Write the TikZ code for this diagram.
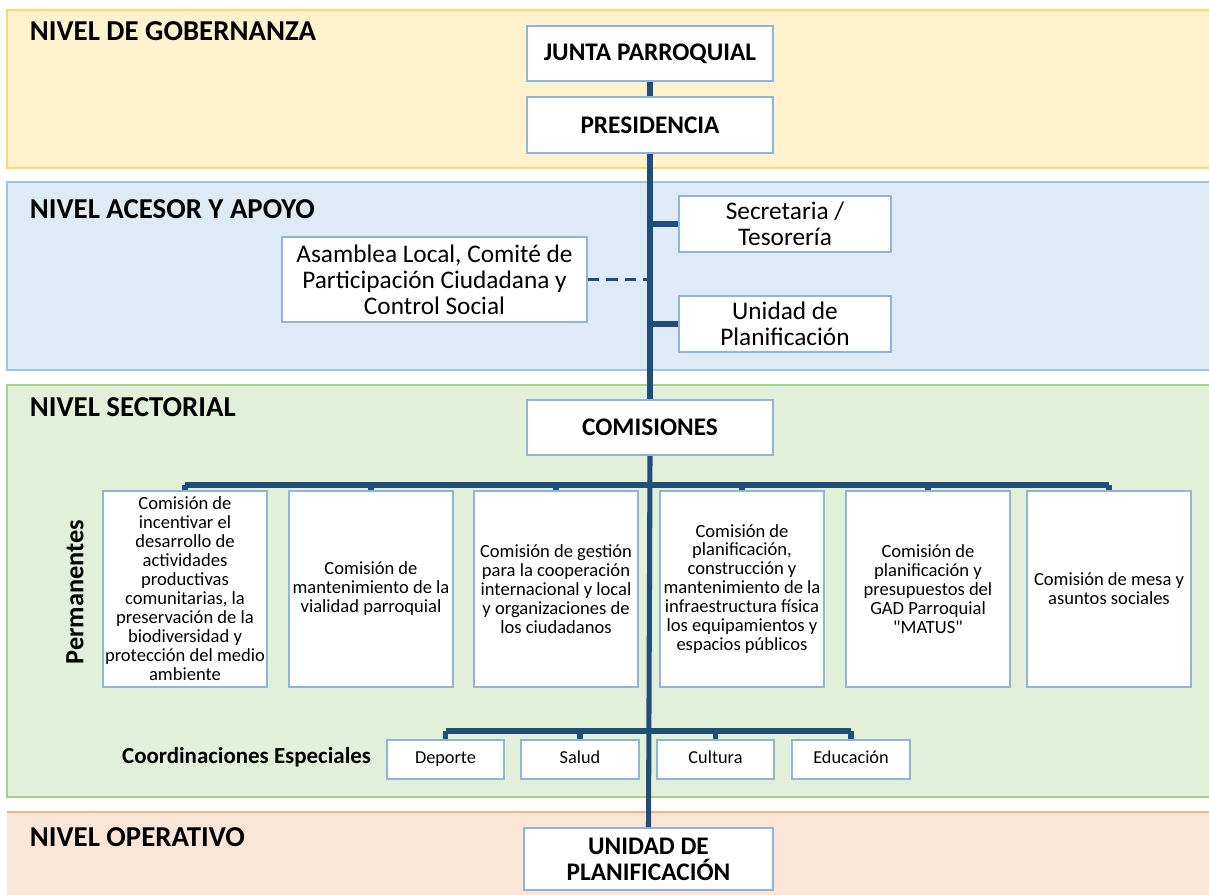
\documentclass[tikz,border=0pt]{standalone}
\usepackage{fontspec}
\setmainfont{Carlito}[Ligatures=TeXOff]
\usetikzlibrary{positioning}
\definecolor{govfill}{HTML}{FFF2CC}
\definecolor{govline}{HTML}{FFD966}
\definecolor{apofill}{HTML}{DEEBF7}
\definecolor{apoline}{HTML}{9DC3E6}
\definecolor{secfill}{HTML}{E2F0D9}
\definecolor{secline}{HTML}{A9D18E}
\definecolor{opefill}{HTML}{FBE5D6}
\definecolor{opeline}{HTML}{F4B183}
\definecolor{boxline}{HTML}{8FB4DE}
\definecolor{trunkblue}{HTML}{1F4E79}

\begin{document}
\begin{tikzpicture}[x=0.025cm,y=-0.025cm,
  band/.style={line width=2pt},
  level/.style={anchor=base west,font=\fontsize{20.5}{24}\selectfont\bfseries},
  box/.style={draw=boxline,line width=1.3pt,fill=white,align=center,inner sep=1pt},
  headbox/.style={box,minimum width=6.15cm,minimum height=1.38cm,font=\fontsize{18}{18.5}\selectfont\bfseries},
  supbox/.style={box,minimum width=5.3cm,minimum height=1.4cm,font=\fontsize{18}{18.5}\selectfont},
  combox/.style={box,minimum width=4.08cm,minimum height=4.9cm,font=\fontsize{13.2}{13.5}\selectfont},
  coobox/.style={box,minimum width=2.93cm,minimum height=0.98cm,text height=1.7ex,text depth=0.5ex,font=\fontsize{13}{15}\selectfont},
  conn/.style={draw=trunkblue,line width=3.6pt}]
  \clip (0,0) rectangle (1209,894);
  % level bands
  \draw[band,draw=govline,fill=govfill] (7,10) rectangle (1220,168);
  \draw[band,draw=apoline,fill=apofill] (7,182) rectangle (1220,370);
  \draw[band,draw=secline,fill=secfill] (7,385) rectangle (1220,797);
  \fill[opefill] (7,812) rectangle (1220,900);
  \draw[band,draw=opeline] (7,812) -- (1220,812);
  \node[level] at (25,40) {NIVEL DE GOBERNANZA};
  \node[level] at (25,218) {NIVEL ACESOR Y APOYO};
  \node[level] at (25,416) {NIVEL SECTORIAL};
  \node[level] at (25,846) {NIVEL OPERATIVO};

  % main chain
  \node[headbox] (junta) at (650,53.5) {JUNTA PARROQUIAL};
  \node[headbox] (pres) at (650,125) {PRESIDENCIA};
  \node[supbox] (secre) at (785,224) {Secretaria /\\Tesorería};
  \node[supbox] (uplan) at (785,324) {Unidad de\\Planificación};
  \node[supbox,minimum width=7.63cm,minimum height=2.13cm] (asam) at (434.5,279.5)
    {Asamblea Local, Comité de\\Participación Ciudadana y\\Control Social};
  \node[headbox] (comis) at (650,427.5) {COMISIONES};
  \node[headbox,minimum width=6.23cm,minimum height=1.55cm] (uope) at (648.5,859)
    {UNIDAD DE\\PLANIFICACIÓN};

  % permanent commissions
  \node[combox] (c1) at (185,589) {Comisión de\\incentivar el\\desarrollo de\\actividades\\productivas\\comunitarias, la\\preservación de la\\biodiversidad y\\protección del medio\\ambiente};
  \node[combox] (c2) at (371,589) {Comisión de\\mantenimiento de la\\vialidad parroquial};
  \node[combox] (c3) at (556,589) {Comisión de gestión\\para la cooperación\\internacional y local\\y organizaciones de\\los ciudadanos};
  \node[combox] (c4) at (742,589) {Comisión de\\planificación,\\construcción y\\mantenimiento de la\\infraestructura física\\los equipamientos y\\espacios públicos};
  \node[combox] (c5) at (928,589) {Comisión de\\planificación y\\presupuestos del\\GAD Parroquial\\"MATUS"};
  \node[combox] (c6) at (1109,589) {Comisión de mesa y\\asuntos sociales};
  \node[rotate=90,font=\fontsize{18.7}{22}\selectfont\bfseries] (perm) at (75,592) {Permanentes};

  % special coordinations
  \node[coobox] (d1) at (445.5,759.5) {Deporte};
  \node[coobox] (d2) at (580,759.5) {Salud};
  \node[coobox] (d3) at (715.5,759.5) {Cultura};
  \node[coobox] (d4) at (851,759.5) {Educación};
  \node[anchor=base east,font=\fontsize{16.3}{19}\selectfont\bfseries] (coord) at (376,763) {Coordinaciones Especiales};

  % connectors
  \coordinate (bar) at (649,485);
  \coordinate (cbar) at (649,731);
  \draw[conn] (junta.south) -- (pres.north);
  \draw[conn] (pres.south) -- (comis.north);
  \draw[conn] (comis.south) -- (uope.north);
  \draw[conn] (secre.west) -- (secre.west -| pres.south);
  \draw[conn] (uplan.west) -- (uplan.west -| pres.south);
  \draw[conn,line width=2.2pt,dash pattern=on 8pt off 5pt] (asam.east) -- (asam.east -| pres.south);
  \draw[conn] (c1.north |- bar) -- (c6.north |- bar);
  \foreach \i in {1,...,6}
    \draw[conn] (c\i.north |- bar) -- (c\i.north);
  \draw[conn] (d1.north |- cbar) -- (d4.north |- cbar);
  \foreach \i in {1,...,4}
    \draw[conn] (d\i.north |- cbar) -- (d\i.north);
\end{tikzpicture}
\end{document}
